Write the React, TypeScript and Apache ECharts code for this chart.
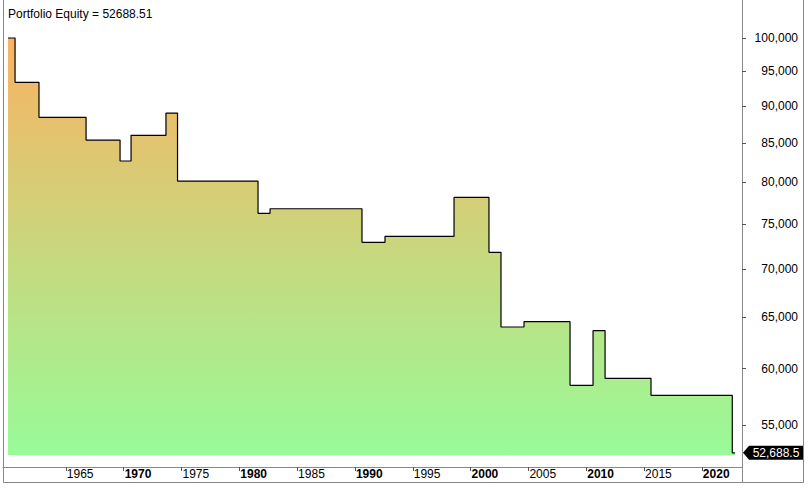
import React, { useEffect, useRef } from "react";
import * as echarts from "echarts";

// Step points: year (decimal) where the equity level starts, and the equity level
const years = [1960.0, 1960.61, 1962.68, 1966.75, 1969.69, 1970.64, 1973.66, 1974.66, 1981.62, 1982.66, 1990.61, 1992.6, 1998.57, 2001.59, 2002.63, 2004.62, 2008.6, 2010.59, 2011.63, 2015.6, 2022.63, 2022.87];
const equity = [100000, 93385, 88470, 85420, 82695, 86043, 89058, 80178, 76275, 76819, 72933, 73613, 78182, 71815, 63990, 64516, 58474, 63626, 59110, 57577, 52688.51, 52688.51];
const yTicks = [55000, 60000, 65000, 70000, 75000, 80000, 85000, 90000, 95000, 100000];
const xTicks = [1965, 1970, 1975, 1980, 1985, 1990, 1995, 2000, 2005, 2010, 2015, 2020];
const titleText = "Portfolio Equity";

const FONT = "'Liberation Sans', Arial, sans-serif";

export default function App() {
  const ref = useRef<HTMLDivElement>(null);
  useEffect(() => {
    if (!ref.current) return;
    const chart = echarts.init(ref.current, undefined, { renderer: "svg" });
    const last = equity[equity.length - 1];
    const xMin = 1959.568;
    const xMax = 2023.47;
    const data = years.map((y, i) => [y, equity[i]]);
    const frame = "#888888";
    chart.setOption({
      animation: false,
      backgroundColor: "#ffffff",
      title: {
        text: `${titleText} = ${last.toFixed(2)}`,
        left: 3,
        top: 3,
        textStyle: { fontFamily: FONT, fontSize: 12, fontWeight: "normal", color: "#000" },
      },
      grid: { left: 3, right: 67, top: 0, bottom: 33, containLabel: false },
      xAxis: {
        type: "value",
        min: xMin,
        max: xMax,
        offset: 12,
        splitLine: { show: false },
        axisLine: { show: true, lineStyle: { color: frame, width: 1 } },
        axisTick: { show: true, customValues: xTicks, length: 4, lineStyle: { color: "#555" } },
        axisLabel: {
          customValues: xTicks,
          align: "left",
          margin: 1,
          padding: [0, 0, 0, 1],
          fontFamily: FONT,
          fontSize: 12,
          color: "#000",
          formatter: (v: number) => (Math.round(v) % 10 === 0 ? `{b|${Math.round(v)}}` : `${Math.round(v)}`),
          rich: { b: { fontFamily: FONT, fontSize: 12, fontWeight: "bold", color: "#000" } },
        },
      },
      yAxis: {
        type: "log",
        position: "right",
        min: 52510,
        max: 106050,
        splitLine: { show: false },
        axisLine: { show: true, lineStyle: { color: frame, width: 1 } },
        axisTick: { show: true, customValues: yTicks, length: 4, inside: false, lineStyle: { color: "#555" } },
        axisLabel: {
          customValues: yTicks,
          align: "right",
          margin: 56,
          fontFamily: FONT,
          fontSize: 12,
          color: "#000",
          formatter: (v: number) => Math.round(v).toLocaleString("en-US"),
        },
      },
      series: [
        {
          type: "line",
          step: "end",
          data,
          symbol: "none",
          lineStyle: { color: "#000", width: 1.2 },
          areaStyle: {
            origin: "start",
            opacity: 1,
            color: new echarts.graphic.LinearGradient(0, 0, 0, 1, [
              { offset: 0, color: "#FAB262" },
              { offset: 1, color: "#98FB98" },
            ]),
          },
          markPoint: {
            silent: true,
            symbol: "path://M0,7L6,0L60,0L60,14L6,14Z",
            symbolSize: [60, 14],
            symbolKeepAspect: false,
            symbolOffset: [31, 0],
            itemStyle: { color: "#000" },
            label: {
              show: true,
              position: "inside",
              offset: [3, 0],
              color: "#fff",
              fontFamily: FONT,
              fontSize: 12,
              formatter: () => last.toLocaleString("en-US", { maximumFractionDigits: 1 }),
            },
            data: [{ coord: [xMax, last] }],
          },
        },
      ],
      graphic: [
        { type: "line", shape: { x1: 3.5, y1: 0, x2: 3.5, y2: 482.5 }, style: { stroke: frame, lineWidth: 1 }, silent: true },
        { type: "line", shape: { x1: 3.5, y1: 482.5, x2: 803.5, y2: 482.5 }, style: { stroke: frame, lineWidth: 1 }, silent: true },
        { type: "line", shape: { x1: 803.5, y1: 0, x2: 803.5, y2: 482.5 }, style: { stroke: frame, lineWidth: 1 }, silent: true },
        { type: "line", shape: { x1: 742.5, y1: 455, x2: 742.5, y2: 482.5 }, style: { stroke: frame, lineWidth: 1 }, silent: true },
      ],
    });
    return () => chart.dispose();
  }, []);
  return (
    <div
      ref={ref}
      style={{ position: "fixed", left: 0, top: 0, width: 809, height: 488, background: "#fff" }}
    />
  );
}
